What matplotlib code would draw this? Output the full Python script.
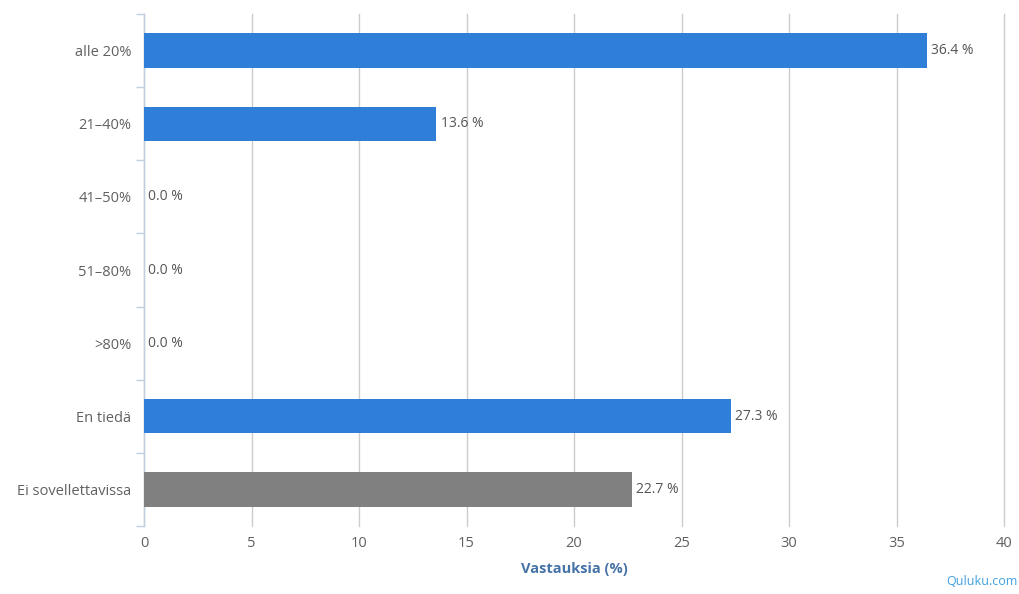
import matplotlib
matplotlib.use("Agg")
import matplotlib.pyplot as plt
import numpy as np

categories = ["alle 20%", "21–40%", "41–50%", "51–80%", ">80%", "En tiedä", "Ei sovellettavissa"]
values = [36.4, 13.6, 0.0, 0.0, 0.0, 27.3, 22.7]
colors = ["#2f7ed8", "#2f7ed8", "#2f7ed8", "#2f7ed8", "#2f7ed8", "#2f7ed8", "#808080"]
xticks = [0, 5, 10, 15, 20, 25, 30, 35, 40]

plt.rcParams['font.family'] = ['Open Sans', 'DejaVu Sans']

W, H = 1019, 594
fig = plt.figure(figsize=(W / 100, H / 100), dpi=100)
ax = fig.add_axes([144 / W, 1 - 526 / H, (1004 - 144) / W, (526 - 14) / H])

y = np.arange(len(categories))
ax.barh(y, values, height=0.47, color=colors, zorder=3)
ax.set_ylim(len(categories) - 0.5, -0.5)
ax.set_xlim(0, 40)

for yi, v in zip(y, values):
    ax.text(v + 0.2, yi, f"{v:.1f} %", va="center", ha="left", fontsize=10, color="#555555", zorder=4)

ax.set_xticks(xticks)
ax.set_xticklabels([str(t) for t in xticks], fontsize=10.5, color="#606060")
ax.set_yticks(y)
ax.set_yticklabels(categories, fontsize=10.5, color="#606060")
ax.tick_params(axis="y", length=0, pad=9)
ax.tick_params(axis="x", length=0, pad=7)

# minor ticks at category boundaries
ax.set_yticks(np.arange(-0.5, len(categories)), minor=True)
ax.tick_params(axis="y", which="minor", length=6, color="#c0d0e0", width=1)

ax.grid(axis="x", color="#cccccc", linewidth=1, zorder=0)
for gl in ax.get_xgridlines():
    gl.set_clip_on(False)
for s in ["top", "right", "bottom"]:
    ax.spines[s].set_visible(False)
ax.spines["left"].set_color("#c0d0e0")
ax.spines["left"].set_linewidth(1)

ax.set_xlabel("Vastauksia (%)", fontsize=10.5, color="#4572a7", fontweight="bold", labelpad=8)

fig.text(1004 / W + 0.013, 1 - 588 / H, "Quluku.com", fontsize=9, color="#3fa0e0", ha="right", va="bottom")

fig.savefig("out.png", dpi=100)
